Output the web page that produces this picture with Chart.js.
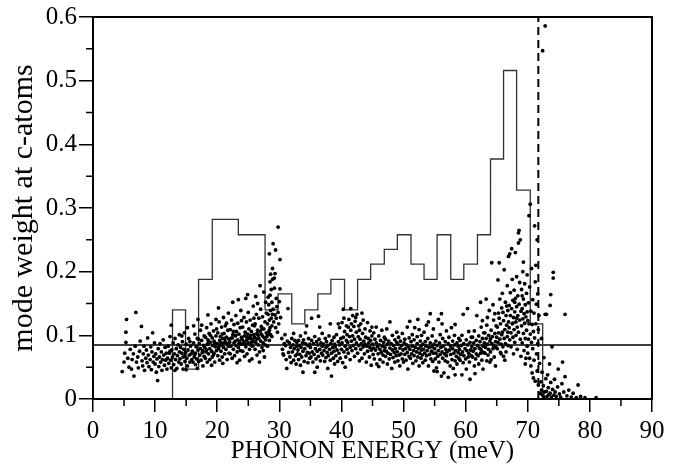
<!DOCTYPE html>
<html>
<head>
<meta charset="utf-8">
<script src="https://cdn.jsdelivr.net/npm/chart.js@4/dist/chart.umd.min.js"></script>
<style>
    html, body { margin: 0; padding: 0; background: #fff; }
    canvas { display: block; }
</style>
</head>
<body>
<canvas id="chart" width="678" height="464"></canvas>
<script>
// ============================================
// DATA
// ============================================
const xTicks = [0, 10, 20, 30, 40, 50, 60, 70, 80, 90]
const xMinor = [5, 15, 25, 35, 45, 55, 65, 75, 85]
const yTicks = [0, 0.1, 0.2, 0.3, 0.4, 0.5, 0.6]
const yMinor = [0.05, 0.15, 0.25, 0.35, 0.45, 0.55]

// histogram: left edge of each bin and its height (last entry closes the histogram)
const histEdges  = [12.8, 14.9, 17.0, 19.2, 21.3, 23.4, 25.6, 27.7, 29.8, 32.0, 34.1, 36.2, 38.3, 40.5, 42.6,
                    44.7, 46.9, 49.0, 51.2, 53.3, 55.4, 57.6, 59.7, 61.9, 64.0, 66.1, 68.2, 70.4, 72.4]
const histValues = [0.14, 0.047, 0.188, 0.282, 0.282, 0.258, 0.258, 0.14, 0.165, 0.118, 0.14, 0.165, 0.188, 0.14, 0.188,
                    0.212, 0.235, 0.258, 0.212, 0.188, 0.258, 0.188, 0.212, 0.258, 0.377, 0.516, 0.328, 0.118, 0]

const meanWeight = 0.085     // horizontal line
const cutoffEnergy = 71.7    // dashed vertical line

// mode weights of individual phonon modes: [energy, weight]
const modes = [
[4.7,.043],[5.0,.058],[5.1,.072],[5.3,.089],[5.3,.105],[5.4,.125],[5.6,.064],[5.8,.05],
[6.0,.078],[6.2,.047],[6.3,.062],[6.5,.071],[6.6,.036],[6.8,.083],[6.9,.136],[7.0,.058],[7.2,.066],[7.3,.049],[7.5,.075],[7.6,.091],[7.8,.114],[7.9,.06],
[8.0,.052],[8.1,.071],[8.2,.083],[8.3,.045],[8.5,.064],[8.6,.077],[8.7,.057],[8.8,.096],[8.9,.069],[9.0,.051],[9.2,.062],[9.3,.082],[9.4,.046],[9.5,.074],[9.6,.104],[9.7,.058],[9.8,.067],[9.9,.088],
[10.0,.055],[10.1,.071],[10.2,.042],[10.3,.063],[10.4,.029],[10.5,.079],[10.6,.051],[10.7,.066],[10.8,.087],[10.9,.058],[11.0,.074],[11.1,.045],[11.2,.062],[11.3,.093],[11.4,.069],[11.5,.053],[11.6,.081],[11.7,.061],[11.8,.072],[11.9,.047],
[12.0,.064],[12.1,.083],[12.2,.056],[12.3,.072],[12.4,.098],[12.5,.061],[12.6,.116],[12.6,.049],[12.7,.077],[12.8,.066],[12.9,.088],[13.0,.054],[13.1,.071],[13.2,.095],[13.3,.062],[13.4,.079],[13.5,.048],[13.6,.068],[13.7,.085],[13.8,.058],[13.9,.074],[13.9,.101],[13.2,.045],[12.4,.075],
[14.0,.063],[14.1,.081],[14.2,.055],[14.3,.072],[14.4,.09],[14.5,.066],[14.5,.047],[14.6,.078],[14.7,.104],[14.8,.059],[14.9,.073],[15.0,.086],[15.1,.064],[15.2,.052],[15.3,.077],[15.4,.095],[15.5,.069],[15.6,.058],[15.7,.083],[15.8,.071],[15.9,.062],[15.2,.112],[14.3,.099],[15.0,.046],[15.6,.09],[14.8,.068],
[16.0,.075],[16.1,.058],[16.2,.088],[16.3,.066],[16.4,.102],[16.5,.072],[16.5,.054],[16.6,.082],[16.7,.063],[16.8,.095],[16.9,.077],[17.0,.059],[17.1,.087],[17.2,.069],[17.3,.108],[17.3,.079],[17.4,.061],[17.5,.092],[17.6,.073],[17.7,.052],[17.8,.084],[17.9,.099],[17.9,.067],[16.2,.115],[16.8,.048],[17.5,.116],[17.0,.094],[16.4,.07],[17.7,.076],[16.9,.125],
[18.0,.081],[18.1,.064],[18.1,.097],[18.2,.074],[18.3,.112],[18.4,.086],[18.4,.058],[18.5,.093],[18.6,.071],[18.7,.103],[18.8,.079],[18.8,.062],[18.9,.089],[19.0,.118],[19.1,.075],[19.2,.096],[19.2,.066],[19.3,.084],[19.4,.107],[19.5,.072],[19.5,.091],[19.6,.058],[19.7,.082],[19.8,.099],[19.8,.125],[19.9,.076],[18.5,.132],[19.1,.053],[18.3,.077],[19.6,.088],[18.9,.1],[19.4,.069],[18.6,.09],[19.9,.11],
[20.0,.087],[20.1,.068],[20.1,.104],[20.2,.079],[20.3,.121],[20.4,.092],[20.4,.061],[20.5,.098],[20.6,.075],[20.7,.113],[20.7,.085],[20.8,.066],[20.9,.095],[21.0,.128],[21.0,.081],[21.1,.103],[21.2,.071],[21.3,.09],[21.3,.115],[21.4,.078],[21.5,.097],[21.6,.062],[21.6,.087],[21.7,.108],[21.8,.135],[21.8,.083],[21.9,.094],[20.2,.143],[20.9,.056],[21.5,.119],[20.6,.088],[21.2,.095],[21.9,.072],[20.3,.083],[21.1,.088],[20.8,.102],
[22.0,.089],[22.1,.071],[22.1,.109],[22.2,.083],[22.3,.124],[22.4,.096],[22.4,.064],[22.5,.101],[22.6,.078],[22.7,.117],[22.7,.088],[22.8,.068],[22.9,.099],[23.0,.131],[23.0,.084],[23.1,.106],[23.2,.074],[23.3,.093],[23.3,.119],[23.4,.081],[23.5,.102],[23.6,.061],[23.6,.09],[23.7,.112],[23.8,.139],[23.8,.086],[23.9,.097],[22.5,.152],[23.2,.057],[23.9,.123],[22.9,.091],[22.2,.095],[23.5,.087],[22.6,.106],[23.0,.1],[23.7,.076],[23.4,.156],
[24.0,.094],[24.1,.075],[24.1,.113],[24.2,.087],[24.3,.128],[24.4,.099],[24.4,.067],[24.5,.105],[24.6,.082],[24.7,.121],[24.7,.092],[24.8,.071],[24.9,.102],[25.0,.136],[25.0,.088],[25.1,.11],[25.2,.078],[25.3,.097],[25.3,.124],[25.4,.085],[25.5,.106],[25.6,.063],[25.6,.094],[25.7,.116],[25.8,.146],[25.8,.09],[25.9,.101],[24.6,.158],[25.2,.06],[25.9,.127],[24.9,.164],[25.5,.089],[24.3,.09],[24.8,.097],[25.1,.095],[25.7,.083],[24.5,.086],[25.4,.1],
[26.0,.097],[26.1,.078],[26.1,.118],[26.2,.089],[26.3,.133],[26.4,.103],[26.4,.069],[26.5,.108],[26.6,.085],[26.7,.127],[26.7,.095],[26.8,.074],[26.9,.106],[27.0,.141],[27.0,.091],[27.1,.114],[27.2,.081],[27.3,.099],[27.3,.129],[27.4,.088],[27.5,.11],[27.6,.066],[27.6,.096],[27.7,.121],[27.8,.152],[27.8,.093],[27.9,.104],[26.2,.161],[26.8,.058],[27.5,.168],[26.5,.15],[27.1,.102],[26.9,.178],[27.9,.135],[27.4,.076],[26.6,.1],[26.0,.115],[27.7,.085],[27.2,.11],[26.3,.094],
[28.0,.098],[28.1,.118],[28.1,.083],[28.2,.133],[28.3,.105],[28.3,.148],[28.4,.124],[28.4,.092],[28.5,.112],[28.5,.163],[28.6,.139],[28.6,.101],[28.7,.127],[28.7,.172],[28.8,.152],[28.8,.115],[28.9,.188],[28.9,.133],[28.2,.16],[28.6,.196],[28.4,.108],[28.8,.098],[28.1,.101],[28.9,.205],[28.4,.228],[28.5,.184],
[29.0,.244],[29.0,.141],[29.1,.121],[29.2,.174],[29.2,.19],[29.3,.197],[29.3,.132],[29.4,.234],[29.4,.112],[29.5,.158],[29.5,.127],[29.6,.145],[29.7,.105],[29.8,.27],[29.8,.136],[29.9,.118],[30.0,.153],[30.1,.219],[30.1,.173],[30.2,.128],
[30.4,.095],[30.5,.078],[30.6,.071],[30.7,.069],[30.8,.087],[30.9,.101],
[31.0,.084],[31.1,.062],[31.2,.048],[31.3,.091],[31.4,.142],[31.5,.073],[31.6,.088],[31.7,.066],[31.8,.081],[31.9,.057],[32.0,.095],[32.1,.074],[32.2,.085],[32.3,.061],[32.4,.079],[32.5,.092],[32.6,.068],[32.7,.055],[32.8,.083],[32.9,.071],[32.3,.103],[32.8,.089],
[33.0,.077],[33.1,.092],[33.1,.062],[33.2,.084],[33.3,.07],[33.4,.099],[33.4,.053],[33.5,.081],[33.6,.066],[33.7,.088],[33.8,.075],[33.8,.042],[33.9,.093],[34.0,.059],[34.1,.079],[34.2,.087],[34.3,.068],[34.4,.115],[34.5,.073],[34.6,.084],[34.6,.057],[34.7,.095],[34.8,.072],[34.9,.064],[34.2,.104],[34.9,.086],
[35.0,.081],[35.1,.066],[35.2,.127],[35.2,.092],[35.3,.074],[35.4,.058],[35.5,.087],[35.6,.07],[35.7,.042],[35.7,.098],[35.8,.079],[35.9,.063],[36.0,.09],[36.1,.05],[36.1,.075],[36.2,.085],[36.3,.13],[36.3,.067],[36.4,.094],[36.5,.078],[36.6,.06],[36.7,.088],[36.8,.072],[36.9,.103],[36.9,.083],[36.5,.113],
[37.0,.069],[37.1,.086],[37.2,.076],[37.3,.059],[37.4,.095],[37.5,.081],[37.5,.065],[37.6,.09],[37.7,.073],[37.8,.048],[37.8,.084],[37.9,.068],[38.0,.099],[38.1,.078],[38.2,.061],[38.3,.087],[38.4,.036],[38.4,.072],[38.5,.092],[38.6,.081],[38.7,.064],[38.8,.097],[38.8,.075],[38.9,.086],[38.9,.055],[38.2,.118],
[39.0,.082],[39.1,.068],[39.2,.101],[39.3,.077],[39.4,.059],[39.5,.09],[39.6,.072],[39.7,.112],[39.7,.085],[39.8,.064],[39.9,.095],[40.0,.078],[40.1,.12],[40.1,.088],[40.2,.057],[40.3,.141],[40.3,.097],[40.4,.074],[40.5,.106],[40.6,.083],[40.7,.066],[40.8,.115],[40.8,.092],[40.9,.078],[40.9,.101],[40.4,.127],[39.5,.118],[40.6,.05],
[41.0,.089],[41.1,.113],[41.1,.072],[41.2,.125],[41.3,.098],[41.4,.081],[41.4,.062],[41.5,.108],[41.6,.118],[41.6,.091],[41.7,.076],[41.8,.131],[41.8,.099],[41.9,.084],[42.0,.114],[42.1,.067],[42.1,.094],[42.2,.122],[42.3,.079],[42.4,.105],[42.4,.088],[42.5,.133],[42.6,.072],[42.7,.098],[42.8,.115],[42.8,.084],[42.9,.06],[42.9,.108],[41.5,.142],[42.3,.128],
[43.0,.094],[43.1,.078],[43.1,.118],[43.2,.087],[43.3,.064],[43.4,.103],[43.5,.082],[43.5,.124],[43.6,.091],[43.7,.071],[43.8,.11],[43.8,.086],[43.9,.097],[44.0,.058],[44.1,.083],[44.2,.12],[44.2,.075],[44.3,.095],[44.4,.088],[44.5,.066],[44.6,.107],[44.6,.081],[44.7,.092],[44.8,.053],[44.8,.077],[44.9,.099],[44.9,.113],[43.3,.135],
[45.0,.086],[45.1,.07],[45.2,.104],[45.2,.08],[45.3,.063],[45.4,.094],[45.5,.077],[45.6,.113],[45.6,.088],[45.7,.055],[45.8,.082],[45.9,.071],[46.0,.099],[46.1,.085],[46.2,.062],[46.2,.078],[46.3,.092],[46.4,.073],[46.5,.108],[46.6,.083],[46.7,.058],[46.7,.069],[46.8,.089],[46.9,.076],[46.9,.097],[46.0,.051],
[47.0,.081],[47.1,.067],[47.1,.094],[47.2,.075],[47.3,.11],[47.4,.086],[47.4,.055],[47.5,.072],[47.6,.091],[47.7,.063],[47.8,.08],[47.8,.121],[47.9,.07],[48.0,.087],[48.1,.048],[48.2,.077],[48.2,.1],[48.3,.065],[48.4,.084],[48.5,.073],[48.6,.093],[48.6,.058],[48.7,.079],[48.8,.068],[48.9,.089],[48.9,.105],
[49.0,.074],[49.1,.06],[49.1,.086],[49.2,.097],[49.3,.069],[49.4,.08],[49.4,.052],[49.5,.091],[49.6,.071],[49.7,.084],[49.8,.063],[49.8,.103],[49.9,.077],[50.0,.058],[50.1,.088],[50.2,.07],[50.2,.094],[50.3,.079],[50.4,.061],[50.5,.085],[50.6,.113],[50.6,.073],[50.7,.047],[50.8,.082],[50.9,.067],[50.9,.096],
[51.0,.122],[51.0,.078],[51.1,.064],[51.2,.09],[51.3,.071],[51.4,.101],[51.4,.083],[51.5,.056],[51.6,.076],[51.7,.093],[51.7,.068],[51.8,.112],[51.9,.081],[52.0,.06],[52.1,.074],[52.2,.098],[52.2,.087],[52.3,.066],[52.4,.079],[52.5,.109],[52.5,.052],[52.6,.072],[52.7,.091],[52.8,.083],[52.8,.064],[52.9,.1],[52.9,.077],[52.3,.125],
[53.0,.069],[53.1,.086],[53.1,.057],[53.2,.078],[53.3,.105],[53.4,.072],[53.5,.09],[53.5,.061],[53.6,.083],[53.7,.116],[53.7,.068],[53.8,.076],[53.9,.095],[54.0,.052],[54.1,.081],[54.2,.07],[54.3,.134],[54.3,.088],[54.4,.063],[54.5,.075],[54.6,.099],[54.6,.082],[54.7,.059],[54.8,.072],[54.8,.11],[54.9,.086],[54.9,.044],[54.0,.121],
[55.0,.079],[55.1,.063],[55.2,.091],[55.2,.072],[55.3,.049],[55.4,.084],[55.5,.067],[55.6,.125],[55.6,.076],[55.7,.058],[55.8,.088],[55.9,.101],[55.9,.07],[56.0,.081],[56.1,.036],[56.1,.134],[56.2,.074],[56.3,.095],[56.3,.064],[56.4,.083],[56.5,.041],[56.6,.071],[56.7,.09],[56.7,.06],[56.8,.078],[56.9,.107],[56.9,.068],[56.2,.118],[55.4,.043],
[57.0,.074],[57.1,.058],[57.2,.087],[57.2,.034],[57.3,.097],[57.4,.077],[57.5,.052],[57.6,.083],[57.6,.07],[57.7,.112],[57.8,.062],[57.9,.079],[57.9,.091],[58.0,.048],[58.1,.072],[58.2,.085],[58.3,.06],[58.3,.038],[58.4,.076],[58.5,.067],[58.6,.088],[58.6,.055],[58.3,.117],[58.8,.073],[58.8,.083],[58.9,.064],[58.9,.095],[58.2,.1],
[59.0,.078],[59.1,.061],[59.1,.092],[59.2,.07],[59.3,.084],[59.4,.038],[59.4,.1],[59.5,.074],[59.6,.057],[59.7,.087],[59.7,.068],[59.6,.133],[59.9,.079],[60.0,.063],[60.1,.093],[60.1,.047],[60.2,.076],[60.3,.085],[60.4,.066],[60.5,.106],[60.5,.072],[60.6,.058],[60.7,.089],[60.8,.077],[60.7,.031],[60.9,.097],[60.9,.068],[60.3,.142],
[61.0,.082],[61.1,.066],[61.1,.097],[61.2,.075],[61.3,.088],[61.4,.052],[61.4,.107],[61.5,.079],[61.6,.063],[61.7,.092],[61.7,.071],[61.8,.131],[61.9,.084],[62.0,.068],[62.1,.099],[62.1,.055],[62.2,.08],[62.3,.09],[62.4,.072],[62.5,.113],[62.5,.077],[62.6,.061],[62.7,.095],[62.8,.083],[62.8,.047],[62.9,.104],[62.9,.073],[62.4,.152],[61.5,.04],[62.7,.123],
[63.0,.088],[63.1,.072],[63.1,.104],[63.2,.081],[63.3,.095],[63.4,.06],[63.4,.116],[63.5,.086],[63.6,.069],[63.7,.1],[63.7,.078],[63.8,.139],[63.9,.091],[64.0,.074],[64.1,.108],[64.1,.062],[64.2,.087],[64.2,.214],[64.3,.098],[64.4,.079],[64.5,.124],[64.5,.084],[64.6,.066],[64.7,.103],[64.8,.09],[64.8,.052],[64.9,.115],[64.9,.081],[63.5,.128],[64.4,.148],[63.9,.058],[64.7,.134],[63.3,.157],[64.0,.095],
[65.0,.097],[65.1,.079],[65.1,.113],[65.2,.187],[65.2,.089],[65.3,.104],[65.4,.214],[65.4,.127],[65.5,.094],[65.6,.073],[65.6,.118],[65.7,.086],[65.8,.143],[65.8,.101],[65.9,.166],[66.0,.082],[66.1,.123],[66.1,.067],[66.2,.203],[66.2,.095],[66.3,.109],[66.4,.087],[66.4,.152],[66.5,.131],[66.5,.074],[66.6,.116],[66.7,.098],[66.7,.178],[66.8,.139],[66.8,.084],[66.9,.224],[66.9,.121],[65.3,.135],[65.9,.105],[66.3,.061],[65.5,.157],[66.6,.146],[65.7,.071],[66.0,.136],[66.8,.105],
[67.0,.112],[67.0,.147],[67.1,.228],[67.1,.093],[67.2,.131],[67.2,.167],[67.3,.104],[67.3,.082],[67.4,.236],[67.4,.142],[67.5,.118],[67.5,.188],[67.6,.097],[67.6,.155],[67.7,.128],[67.7,.071],[67.8,.171],[67.8,.109],[67.9,.137],[67.9,.089],[68.0,.23],[68.0,.158],[68.1,.121],[68.1,.1],[68.2,.145],[68.2,.192],[68.3,.113],[68.3,.078],[68.4,.162],[68.4,.131],[68.5,.245],[68.5,.261],[68.5,.105],[68.6,.265],[68.6,.149],[68.7,.124],[68.7,.183],[68.8,.25],[68.8,.094],[68.9,.138],[68.9,.067],[67.6,.119],[68.2,.127],[67.9,.152],
[69.0,.115],[69.0,.172],[69.1,.142],[69.1,.088],[69.2,.2],[69.2,.126],[69.3,.157],[69.3,.103],[69.4,.134],[69.4,.076],[69.5,.181],[69.5,.119],[69.6,.148],[69.6,.095],[69.7,.129],[69.7,.064],[69.8,.166],[69.8,.108],[69.9,.137],[69.9,.083],[69.3,.215],[69.6,.055],[69.9,.195],[69.1,.162],
[70.0,.123],[70.0,.072],[70.1,.151],[70.1,.094],[70.2,.288],[70.2,.118],[70.3,.064],[70.3,.176],[70.4,.306],[70.4,.102],[70.5,.138],[70.5,.052],[70.6,.089],[70.6,.205],[70.7,.117],[70.7,.041],[70.8,.156],[70.8,.079],[70.9,.106],[70.9,.033],
[71.0,.135],[71.0,.061],[71.1,.272],[71.1,.096],[71.2,.184],[71.2,.028],[71.3,.21],[71.3,.118],[71.4,.071],[71.4,.149],[71.5,.25],[71.5,.044],[71.6,.165],[71.6,.087],[71.7,.109],[71.7,.022],[71.8,.131],[71.9,.056],
[72.0,.009],[72.1,.027],[72.2,.014],[72.3,.042],[72.4,.547],[72.4,.006],[72.5,.021],[72.6,.065],[72.7,.011],[72.8,.586],[72.8,.133],[72.9,.032],[72.2,.095],[72.6,.003],
[73.0,.133],[73.0,.012],[73.1,.004],[73.2,.038],[73.3,.018],[73.4,.007],[73.5,.055],[73.6,.147],[73.6,.009],[73.7,.164],[73.7,.026],[73.8,.003],[73.9,.082],[74.0,.015],[74.1,.199],[74.1,.19],[74.2,.006],[74.3,.031],[74.4,.011],[74.6,.004],[74.8,.019],[74.9,.047],
[75.1,.008],[75.3,.003],[75.5,.024],[75.6,.058],[75.8,.011],[76.0,.133],[76.0,.035],[76.3,.005],[76.6,.014],[77.0,.003],[77.3,.009],[77.8,.002],[78.1,.022],[78.5,.004],[79.2,.002],[81.0,.002]
]

// ============================================
// PLUGIN: minor ticks + frame
// ============================================
const frameAndMinorTicks = {
    id: 'frameAndMinorTicks',
    afterDraw(chart) {
        const { ctx, chartArea: a, scales: { x, y } } = chart
        ctx.save()
        ctx.strokeStyle = '#000'
        ctx.lineWidth = 1.5
        ctx.beginPath()
        xMinor.forEach(v => {
            const px = x.getPixelForValue(v)
            ctx.moveTo(px, a.bottom)
            ctx.lineTo(px, a.bottom + 7)
        })
        yMinor.forEach(v => {
            const py = y.getPixelForValue(v)
            ctx.moveTo(a.left, py)
            ctx.lineTo(a.left - 7, py)
        })
        ctx.stroke()
        ctx.lineWidth = 2
        ctx.strokeRect(a.left, a.top, a.right - a.left, a.bottom - a.top)
        ctx.restore()
    }
}

// ============================================
// RENDER CHART
// ============================================
const serif = 'Liberation Serif'

const histPoints = [{ x: histEdges[0], y: 0 }, ...histEdges.map((e, i) => ({ x: e, y: histValues[i] }))]

new Chart(document.getElementById('chart'), {
    type: 'scatter',
    data: {
        datasets: [
            {
                data: modes.map(([x, y]) => ({ x, y })),
                backgroundColor: '#000',
                borderWidth: 0,
                pointRadius: 1.9
            },
            {
                data: histPoints,
                showLine: true,
                stepped: true,
                borderColor: '#333',
                borderWidth: 1.3,
                pointRadius: 0
            },
            {
                data: [{ x: 0, y: meanWeight }, { x: 90, y: meanWeight }],
                showLine: true,
                borderColor: '#000',
                borderWidth: 1.5,
                pointRadius: 0
            },
            {
                data: [{ x: cutoffEnergy, y: 0 }, { x: cutoffEnergy, y: 0.6 }],
                showLine: true,
                borderColor: '#000',
                borderWidth: 2,
                borderDash: [8, 5],
                pointRadius: 0
            }
        ]
    },
    options: {
        responsive: false,
        animation: false,
        devicePixelRatio: 1,
        layout: { padding: { top: 12, right: 26, left: 0, bottom: 0 } },
        plugins: { legend: { display: false }, tooltip: { enabled: false } },
        scales: {
            x: {
                type: 'linear',
                min: 0,
                max: 90,
                afterFit: s => { s.height = 65 },
                afterBuildTicks: s => { s.ticks = xTicks.map(v => ({ value: v })) },
                grid: { drawOnChartArea: false, drawTicks: true, tickLength: 13, color: '#000', lineWidth: 1.5 },
                border: { color: '#000', width: 2 },
                ticks: { color: '#000', font: { family: serif, size: 25 }, padding: 4, maxRotation: 0 },
                title: {
                    display: true,
                    text: 'PHONON ENERGY (meV)',
                    color: '#000',
                    font: { family: serif, size: 25 },
                    padding: { top: 0, bottom: -2 }
                }
            },
            y: {
                type: 'linear',
                min: 0,
                max: 0.6,
                afterFit: s => { s.width = 93 },
                afterBuildTicks: s => { s.ticks = yTicks.map(v => ({ value: v })) },
                grid: { drawOnChartArea: false, drawTicks: true, tickLength: 14, color: '#000', lineWidth: 1.5 },
                border: { color: '#000', width: 2 },
                ticks: { color: '#000', font: { family: serif, size: 25 }, padding: 2 },
                title: {
                    display: true,
                    text: 'mode weight at c-atoms',
                    color: '#000',
                    font: { family: serif, size: 30 },
                    padding: { top: 6, bottom: 0 }
                }
            }
        }
    },
    plugins: [frameAndMinorTicks]
})
</script>
</body>
</html>
